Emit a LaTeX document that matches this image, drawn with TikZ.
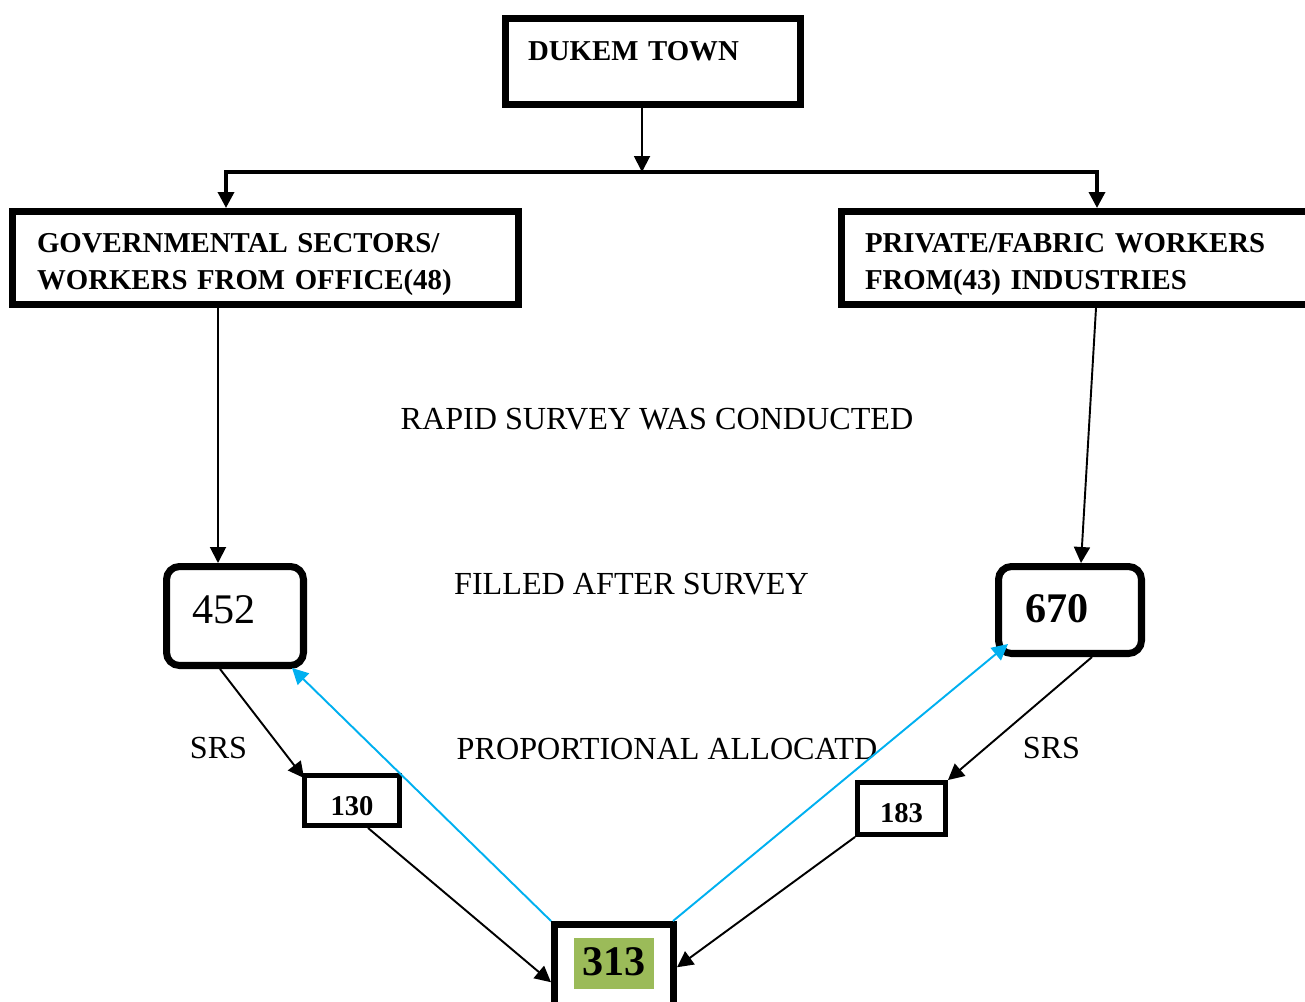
\documentclass[tikz,border=0pt]{standalone}
\usepackage{fontspec}
\setmainfont{Liberation Serif}
\usepackage{xcolor}
\usetikzlibrary{arrows.meta,positioning,calc}
\definecolor{sumgreen}{HTML}{9BBB59}
\definecolor{backblue}{HTML}{00B0F0}
\newcommand{\boxfont}{\fontsize{16.4pt}{21.5pt}\selectfont\bfseries}
\newcommand{\bigfont}{\fontsize{24pt}{28pt}\selectfont}
\tikzset{
	>={Triangle[length=3.2mm,width=3.2mm]},
	dedge/.style={arrows=->, black, line width=1.1pt},
	bedge/.style={arrows=->, backblue, line width=1.1pt},
}
\tikzstyle{nrect} = [rectangle, draw=black, line width=4pt, inner sep=0pt, align=left]
\tikzstyle{numbox} = [nrect, rounded corners=0.26cm, align=left]
\tikzstyle{smallbox} = [rectangle, draw=black, line width=2.8pt, inner sep=0pt, font=\fontsize{16.3pt}{19pt}\selectfont\bfseries]
\tikzstyle{lbl} = [font=\fontsize{18.3pt}{22pt}\selectfont, anchor=base, inner sep=0pt]

\begin{document}
\begin{tikzpicture}[x=0.02cm, y=-0.02cm]
	\useasboundingbox (0,0) rectangle (1305,1001);
	
	\node[nrect, font=\boxfont, inner xsep=0.45cm, text width=5cm, text height=0.83cm, text depth=0.89cm] (dukem) at (653,61.5) {DUKEM TOWN};
	\node[nrect, font=\boxfont, inner xsep=0.49cm, text width=9.14cm, text height=0.81cm, text depth=1.05cm] (gov) at (265.5,258) {GOVERNMENTAL SECTORS/\\WORKERS FROM OFFICE(48)};
	\node[nrect, font=\boxfont, inner xsep=0.47cm, text width=8.47cm, text height=0.81cm, text depth=1.05cm] (priv) at (1076.75,258) {PRIVATE/FABRIC WORKERS\\FROM(43) INDUSTRIES};
	
	\coordinate (split) at (642,172);
	\coordinate (lturn) at (226,172);
	\coordinate (rturn) at (1097,172);
	\draw[dedge] ($(dukem.south)+(-11,0)$) -- (split);
	\draw[dedge, <->, line width=2pt] (lturn |- gov.north) -- (lturn) -- (rturn) -- (rturn |- priv.north);
	
	\node[lbl] (survey) at (657,429) {RAPID SURVEY WAS CONDUCTED};
	\node[lbl] (filled) at (631.5,594) {FILLED AFTER SURVEY};
	
	\node[numbox, font=\bigfont, inner xsep=0.51cm, text width=1.72cm, text height=1.13cm, text depth=0.85cm] (b452) at (235,616) {452};
	\node[numbox, font=\bigfont\bfseries, inner xsep=0.53cm, text width=1.8cm, text height=1.11cm, text depth=0.63cm] (b670) at (1070,610) {670};
	\draw[dedge] ($(gov.south)+(-47.5,0)$) -- ($(b452.north)+(-17,0)$);
	\draw[dedge] ($(priv.south)+(19.25,0)$) -- ($(b670.north)+(11,0)$);
	
	\node[lbl] (srsl) at (218.5,758) {SRS};
	\node[lbl] (srsr) at (1051.5,758) {SRS};
	\node[lbl] (alloc) at (667,759) {PROPORTIONAL ALLOCATD};
	
	\node[smallbox, minimum width=1.9cm, text height=0.79cm, text depth=0.21cm] (n130) at (352,800.5) {130};
	\node[smallbox, minimum width=1.76cm, text height=0.79cm, text depth=0.25cm] (n183) at (901.5,808.5) {183};
	\node[nrect, font=\bigfont\bfseries, inner xsep=0.39cm, text height=1.01cm, text depth=0.7cm] (total) at (614,967.25) {\setlength{\fboxsep}{0pt}\colorbox{sumgreen}{\rule[-0.28cm]{0pt}{1.02cm}\makebox[1.6cm]{313}}};
	
	\draw[dedge] ($(b452.south)+(-15,0)$) -- ($(n130.north west)+(2,5)$);
	\draw[dedge] ($(b670.south)+(22,0)$) -- (n183.north east);
	\draw[dedge] ($(n130.south)+(16,0)$) -- ($(total.west)+(0,15)$);
	\draw[dedge] (n183.south west) -- (total.east);
	
	\draw[bedge] (total.north west) -- ($(b452.south east)+(-15,-1)$);
	\draw[bedge] ($(total.north east)+(-4,0)$) -- ($(b670.south west)+(13,-13)$);
\end{tikzpicture}
\end{document}
